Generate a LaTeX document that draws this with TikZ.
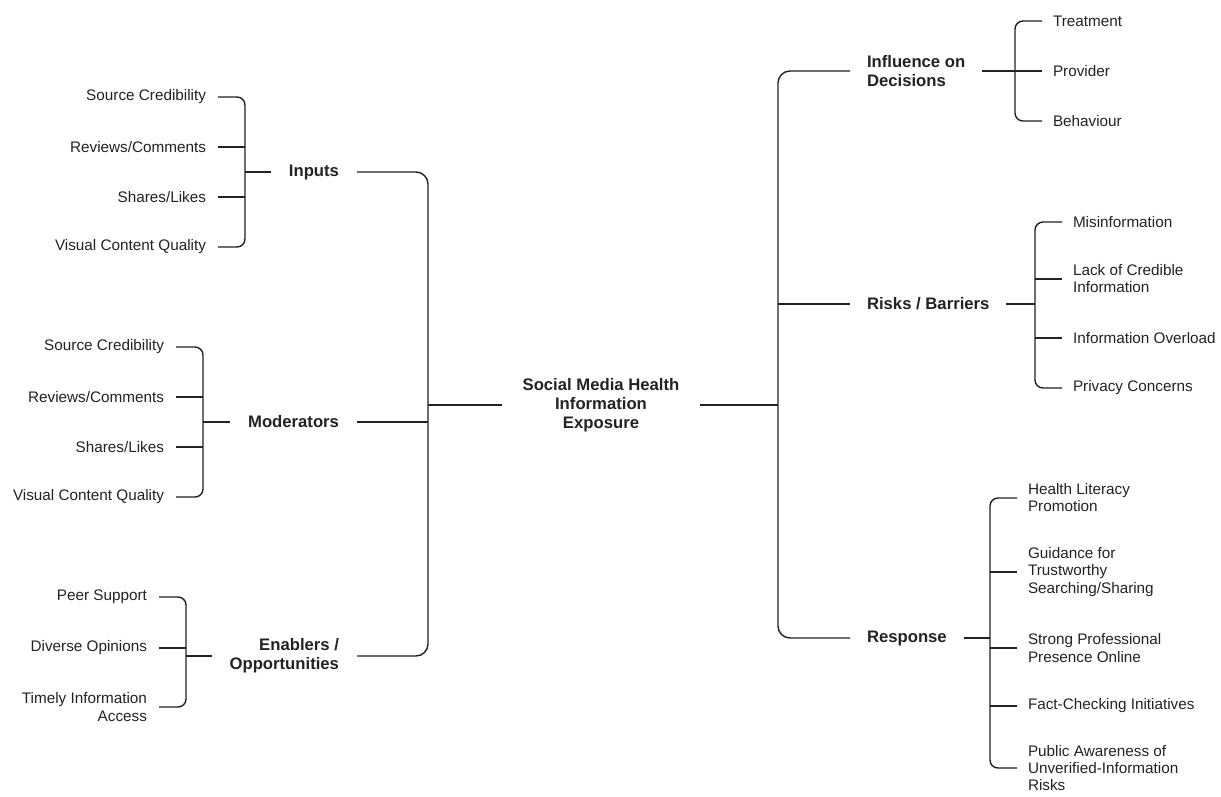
\documentclass[tikz,border=0pt]{standalone}
\usepackage{fontspec}
\setmainfont{Liberation Sans}
\usepackage{tikz}
\usetikzlibrary{positioning,calc}
\definecolor{ink}{HTML}{222222}
\tikzstyle{mm}=[x=0.02cm,y=-0.02cm,line width=0.8pt,draw=ink,text=ink]
\tikzstyle{lf}=[anchor=east,align=right,inner sep=0pt,outer xsep=0.24cm,font=\fontsize{8.7}{9.7}\selectfont]
\tikzstyle{lfr}=[anchor=west,align=left,inner sep=0pt,outer xsep=0.22cm,font=\fontsize{8.7}{9.7}\selectfont]
\tikzstyle{hd}=[anchor=east,align=right,inner sep=0pt,outer xsep=0.36cm,font=\fontsize{9.5}{10.8}\selectfont\bfseries]
\tikzstyle{hdr}=[anchor=west,align=left,inner sep=0pt,outer xsep=0.34cm,font=\fontsize{9.5}{10.8}\selectfont\bfseries]
\tikzstyle{br}=[rounded corners=0.16cm]
\tikzstyle{trunk}=[rounded corners=0.24cm]
\begin{document}
\begin{tikzpicture}[mm]
      \useasboundingbox (0,0) rectangle (1221,796);
      \node[align=center,inner sep=0pt,outer xsep=0.42cm,font=\fontsize{9.5}{10.8}\selectfont\bfseries] (core) at (601,405) {Social Media Health\\Information\\Exposure};
      \coordinate (lj) at (428,405);
      \coordinate (rj) at (778,405);
      \node[hd] (inp) at (357,172) {Inputs};
      \node[hd] (mod) at (357,422) {Moderators};
      \node[hd] (enb) at (357,656) {Enablers /\\Opportunities};
      \node[hdr] (infl) at (850,71) {Influence on\\Decisions};
      \node[hdr] (risk) at (850,304) {Risks / Barriers};
      \node[hdr] (resp) at (850,638) {Response};
      \node[lf] (in_1) at (218,97) {Source Credibility};
      \node[lf] (in_2) at (218,147) {Reviews/Comments};
      \node[lf] (in_3) at (218,197) {Shares/Likes};
      \node[lf] (in_4) at (218,247) {Visual Content Quality};
      \node[lf] (md_1) at (176,347) {Source Credibility};
      \node[lf] (md_2) at (176,397) {Reviews/Comments};
      \node[lf] (md_3) at (176,447) {Shares/Likes};
      \node[lf] (md_4) at (176,497) {Visual Content Quality};
      \node[lf] (en_1) at (159,597) {Peer Support};
      \node[lf] (en_2) at (159,648) {Diverse Opinions};
      \node[lf] (en_3) at (159,707) {Timely Information\\Access};
      \node[lfr] (dc_1) at (1042,21) {Treatment};
      \node[lfr] (dc_2) at (1042,71) {Provider};
      \node[lfr] (dc_3) at (1042,121) {Behaviour};
      \node[lfr] (rk_1) at (1062,222) {Misinformation};
      \node[lfr] (rk_2) at (1062,279) {Lack of Credible\\Information};
      \node[lfr] (rk_3) at (1062,338) {Information Overload};
      \node[lfr] (rk_4) at (1062,388) {Privacy Concerns};
      \node[lfr] (rp_1) at (1017,498) {Health Literacy\\Promotion};
      \node[lfr] (rp_2) at (1017,572) {Guidance for\\Trustworthy\\Searching/Sharing};
      \node[lfr] (rp_3) at (1017,648) {Strong Professional\\Presence Online};
      \node[lfr] (rp_4) at (1017,706) {Fact-Checking Initiatives};
      \node[lfr] (rp_5) at (1017,768) {Public Awareness of\\Unverified-Information\\Risks};
      \coordinate (ib) at (245,172);
      \coordinate (mb) at (203,422);
      \coordinate (eb) at (186,656);
      \coordinate (db) at (1015,71);
      \coordinate (rb) at (1035,304);
      \coordinate (pb) at (990,638);
      \draw[trunk] (inp.east) -| (lj) |- (enb.east);
      \draw (mod.east) -- (mod.east -| lj);
      \draw (lj) -- (core.west);
      \draw (core.east) -- (rj);
      \draw[trunk] (infl.west) -| (rj) |- (resp.west);
      \draw (risk.west) -- (risk.west -| rj);
      \draw[br] (in_1.east) -| (ib) |- (in_4.east);
      \draw (in_2.east) -- (in_2.east -| ib) (in_3.east) -- (in_3.east -| ib) (ib) -- (inp.west);
      \draw[br] (md_1.east) -| (mb) |- (md_4.east);
      \draw (md_2.east) -- (md_2.east -| mb) (md_3.east) -- (md_3.east -| mb) (mb) -- (mod.west);
      \draw[br] (en_1.east) -| (eb) |- (en_3.east);
      \draw (en_2.east) -- (en_2.east -| eb) (eb) -- (enb.west);
      \draw[br] (dc_1.west) -| (db) |- (dc_3.west);
      \draw (infl.east) -- (dc_2.west);
      \draw[br] (rk_1.west) -| (rb) |- (rk_4.west);
      \draw (rk_2.west) -- (rk_2.west -| rb) (rk_3.west) -- (rk_3.west -| rb) (risk.east) -- (rb);
      \draw[br] (rp_1.west) -| (pb) |- (rp_5.west);
      \draw (rp_2.west) -- (rp_2.west -| pb) (rp_3.west) -- (rp_3.west -| pb)
        (rp_4.west) -- (rp_4.west -| pb) (resp.east) -- (pb);
    \end{tikzpicture}
\end{document}
